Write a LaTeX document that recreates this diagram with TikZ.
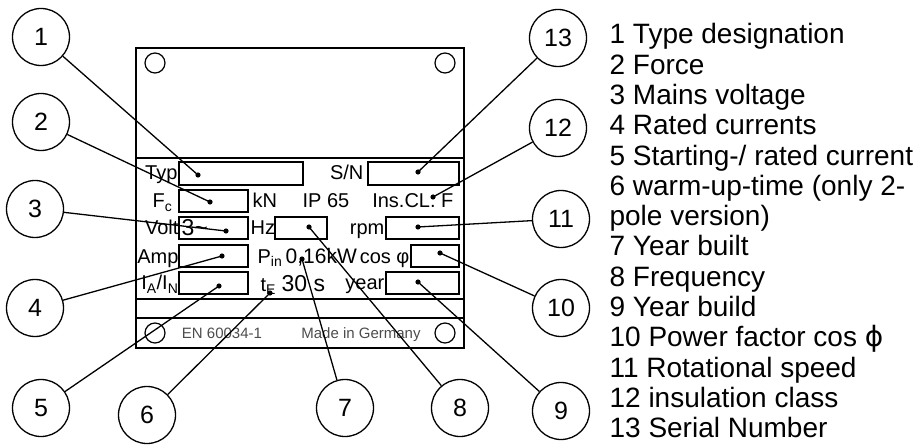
\documentclass[tikz,border=0pt]{standalone}
\usepackage{fontspec}
\setmainfont{Liberation Sans}
\newfontfamily\dejavu{DejaVu Sans}

\begin{document}
\begin{tikzpicture}[x=1pt,y=-1pt,line width=1.2pt,
      nomor/.style={draw,circle,minimum size=57pt,inner sep=0pt,line width=1.3pt,
        font=\fontsize{25}{25}\selectfont},
      garis/.style={line width=1.3pt},
      teks/.style={inner sep=0pt,font=\fontsize{20}{20}\selectfont},
      besar/.style={inner sep=0pt,font=\fontsize{23}{23}\selectfont},
      abu/.style={inner sep=0pt,anchor=base,text=black!70,
        font=\fontsize{15}{15}\selectfont}]

    \useasboundingbox (0,0) rectangle (923,446);

    % Pelat nama
    \draw[line width=1.5pt] (136,48) rectangle (464,348);
    \draw (136,158) -- (464,158);
    \draw (136,299) -- (464,299);
    \draw (136,318) -- (464,318);
    \foreach \x/\y in {155/63, 445/63, 155/333, 445/333}
      {\draw (\x,\y) circle (10);}

    % Kolom isian
    \foreach \xa/\ya/\xb/\yb in {179/162/303/185, 368/162/459/185,
        179/190/248/212, 179/217/248/239, 275/217/327/239, 386/217/459/239,
        179/245/248/267, 411/245/459/267, 179/272/248/294, 386/272/459/294}
      {\draw (\xa,\ya) rectangle (\xb,\yb);}

    % Tulisan pada pelat
    \node[teks,anchor=base east] (typ) at (178,180) {Typ};
    \node[teks,anchor=base east] (sn) at (364,180) {S/N};
    \node[teks,anchor=base east] (fc) at (173,208) {F\textsubscript{c}};
    \node[teks,anchor=base west] (kn) at (252,208) {kN};
    \node[teks,anchor=base west] (ip) at (302,208) {IP 65};
    \node[teks,anchor=base east] (ins) at (454,208) {Ins.CL. F};
    \node[teks,anchor=base east] (volt) at (179,235) {Volt};
    \node[besar,anchor=base west] (tiga) at (181,236) {3\textasciitilde};
    \node[teks,anchor=base west] (hz) at (250,235) {Hz};
    \node[teks,anchor=base east] (rpm) at (385,235) {rpm};
    \node[teks,anchor=base east] (amp) at (179,263) {Amp};
    \node[teks,anchor=base west] (pin) at (257,263)
      {P\textsubscript{in}\,{\fontsize{21}{21}\selectfont 0,16kW}};
    \node[teks,anchor=base east] (cos) at (410,263) {cos φ};
    \node[teks,anchor=base east] (ia) at (179,290)
      {I\textsubscript{A}/I\textsubscript{N}};
    \node[teks,anchor=base west] (te) at (260,291)
      {t\textsubscript{E} {\fontsize{23}{23}\selectfont 30 s}};
    \node[teks,anchor=base east] (year) at (385,290) {year};
    \node[abu] (en) at (222,338) {EN 60034-1};
    \node[abu] (made) at (361,338) {Made in Germany};

    % Nomor dan titik tunjuk
    \foreach \n/\x/\y in {1/41/37, 2/41/122, 3/35/209, 4/35/308, 5/41/408,
        6/147/415, 7/345/408, 8/460/408, 9/561/411, 10/561/308, 11/561/219,
        12/558/128, 13/558/38}
      {\node[nomor] (c\n) at (\x,\y) {\n};}
    \foreach \n/\x/\y in {1/198/175, 2/210/202, 3/226/231, 4/222/256,
        5/219/286, 6/270/293, 7/302/259, 8/309/227, 9/418/282, 10/440/253,
        11/418/227, 12/433/197, 13/418/172}
      {\coordinate (d\n) at (\x,\y);}
    \foreach \n in {1,...,13}
      {\draw[garis] (c\n) -- (d\n);
       \fill (d\n) circle (2.6);}

    % Keterangan
    \node[anchor=north west,inner sep=0pt,align=left,
      font=\fontsize{28}{30.3}\selectfont] (daftar) at (609,23)
      {1 Type designation\\2 Force\\3 Mains voltage\\4 Rated currents\\
       5 Starting-/ rated current\\6 warm-up-time (only 2-\\pole version)\\
       7 Year built\\8 Frequency\\9 Year build\\
       10 Power factor cos {\dejavu ϕ}\\11 Rotational speed\\
       12 insulation class\\13 Serial Number};
  \end{tikzpicture}
\end{document}
